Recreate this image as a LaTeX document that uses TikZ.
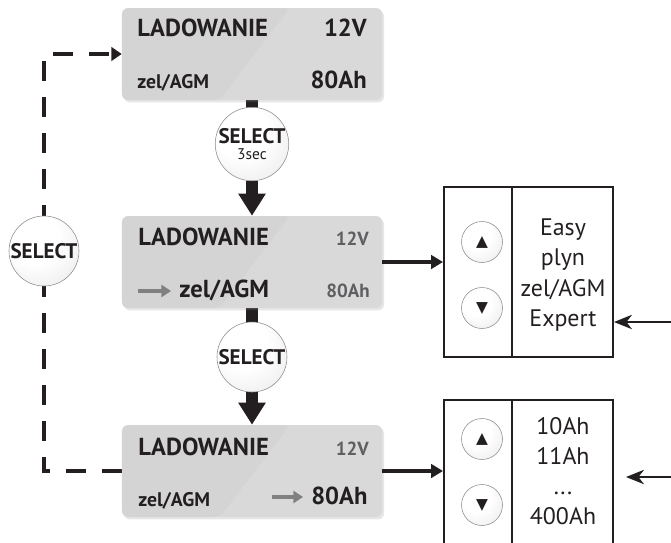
\documentclass[tikz,border=0pt]{standalone}
\usepackage{fontspec}
\setmainfont{PT Sans}
\newfontfamily\symbolfont{DejaVu Sans}
\usetikzlibrary{positioning}
\usetikzlibrary{calc}
\usetikzlibrary{shadows}
\usetikzlibrary{arrows.meta}
\definecolor{lcd grey}{RGB}{217,217,218}
\definecolor{ink}{RGB}{35,31,32}
\definecolor{dim ink}{RGB}{95,95,97}
% White face with a grey rim for the push buttons
\pgfdeclareradialshading{button glow}{\pgfpoint{-10bp}{12bp}}{%
    color(0bp)=(white); color(18bp)=(white);
    color(50bp)=(black!12); color(65bp)=(black!25)}
\tikzset{
    % Default arrow shape for the thin lines
    >={Stealth},
%
    % The grey display panel, with a slightly darker left part
    display panel/.style={
        rectangle, rounded corners=1.5mm, fill=lcd grey,
        minimum width=65mm, minimum height=23mm,
        drop shadow={opacity=.2, shadow xshift=.5mm, shadow yshift=-.6mm},
        path picture={\fill [black, opacity=.02]
            (path picture bounding box.north west) -- ++(42mm,0)
            -- ($(path picture bounding box.south west)+(24.5mm,0)$)
            -- (path picture bounding box.south west) -- cycle;}},
%
    % Round push buttons
    select button/.style={
        circle, draw=black!45, thin, shading=button glow,
        minimum size=17.5mm, inner sep=0, text=ink, align=center,
        font=\fontsize{15}{15}\selectfont\bfseries},
    arrow key/.style={
        circle, draw=black!45, thin, shading=button glow,
        minimum size=10.25mm, inner sep=0, text=ink,
        font=\symbolfont\fontsize{11}{11}\selectfont},
%
    % Heavy black bar and arrow between the panels
    state bar/.style={draw=ink, line width=3mm},
    state arrow/.style={state bar, -{Triangle[length=5.5mm,width=6.5mm]}},
    % From a panel to its list of choices
    list arrow/.style={draw=ink, line width=1mm,
        -{Triangle[length=3mm,width=3.4mm]}},
    % Thin arrows coming in from the right edge
    entry arrow/.style={draw=ink, line width=.5mm,
        -{Stealth[length=4.5mm,width=3.6mm,inset=1.4mm]}},
    % Dashed way back to the first panel
    return path/.style={draw=ink, line width=1.1mm,
        dash pattern=on 5mm off 4mm,
        -{Triangle[length=2.6mm,width=3.4mm]}},
    % Small grey marker in front of the value being set
    marker/.style={draw=black!50, line width=.8mm, shorten >=2mm,
        -{Triangle[length=2.4mm,width=3mm]}},
%
    % Lists of choices
    choice box/.style={draw=ink, line width=.5mm, minimum width=42.25mm},
    choice text/.style={text=ink, align=center,
        font=\fontsize{17}{21.5}\selectfont},
%
    % Panel texts
    big label/.style={text=ink, inner sep=0,
        font=\fontsize{17.5}{17.5}\selectfont\bfseries},
    small label/.style={text=ink, inner sep=0,
        font=\fontsize{14}{14}\selectfont\bfseries},
    dim label/.style={text=dim ink, inner sep=0,
        font=\fontsize{13.5}{13.5}\selectfont\bfseries}}
\pgfdeclarelayer{background}
\pgfsetlayers{background,main}

\begin{document}
\begin{tikzpicture}[x=0.25mm, y=-0.25mm]

\clip (0,0) rectangle (671,542);

% Three display panels

\node [display panel] (box1) at (252,54) {};
\node [display panel] (box2) at (252,262) {};
\node [display panel] (box3) at (252,471) {};

\node [big label, anchor=base west] (title1) at (137,36) {LADOWANIE};
\node [big label, anchor=base east] (volt1) at (367,36) {12V};
\node [small label, anchor=base west] (type1) at (137,88) {zel/AGM};
\node [big label, anchor=base east] (cap1) at (367,88) {80Ah};

\node [big label, anchor=base west] (title2) at (138,245) {LADOWANIE};
\node [dim label, anchor=base east] (volt2) at (369,245) {12V};
\node [big label, anchor=base west] (type2) at (179,297) {zel/AGM};
\node [dim label, anchor=base east] (cap2) at (370,297) {80Ah};
\coordinate (mark2) at (138,291);
\draw [marker] (mark2) -- (mark2 -| type2.west);

\node [big label, anchor=base west] (title3) at (138,455) {LADOWANIE};
\node [dim label, anchor=base east] (volt3) at (369,455) {12V};
\node [small label, anchor=base west] (type3) at (138,506) {zel/AGM};
\node [big label, anchor=base west] (cap3) at (311,504) {80Ah};
\coordinate (mark3) at (272,497);
\draw [marker] (mark3) -- (mark3 -| cap3.west);

% Buttons

\node [select button] (sel1) at (252,144)
    {SELECT\\[-4pt]{\fontsize{11}{11}\selectfont\mdseries 3sec}};
\node [select button] (sel2) at (252,357) {SELECT};
\node [select button] (sel3) at (44,251) {SELECT};

% Lists of choices

\node [choice box, minimum height=42.5mm] (modes) at (528.5,272) {};
\coordinate (modes split) at ($(modes.north west)+(69,0)$);
\draw [ink, line width=.3mm] (modes split) -- (modes split |- modes.south);
\node [arrow key] (up1) at (482,242) {▲};
\node [arrow key] (down1) at (482,308) {▼};
\node [choice text] (mode list) at (563,275)
    {Easy\\plyn\\zel/AGM\\Expert};

\node [choice box, minimum height=40mm] (sizes) at (528.5,480) {};
\coordinate (sizes split) at ($(sizes.north west)+(69,0)$);
\draw [ink, line width=.3mm] (sizes split) -- (sizes split |- sizes.south);
\node [arrow key] (up2) at (482,439) {▲};
\node [arrow key] (down2) at (482,505) {▼};
\node [choice text] (size list) at (563,471)
    {10Ah\\11Ah\\...\\400Ah};

\coordinate (in1) at (671,322);
\coordinate (in2) at (671,477);
\coordinate (in2 end) at (626,477);

\begin{pgfonlayer}{background}
\draw [state bar] (box1.south) -- (sel1.center);
\draw [state arrow] (sel1.south) -- (box2.north);
\draw [state bar] (box2.south) -- (sel2.center);
\draw [state arrow] (sel2.south) -- (box3.north);
\draw [return path] (box3.west) -| (sel3.center) |- (box1.west);
\end{pgfonlayer}

\draw [list arrow] (box2.east) -- (box2.east -| modes.west);
\draw [list arrow] (box3.east) -- (box3.east -| sizes.west);
\draw [entry arrow] (in1) -- (in1 -| modes.east);
\draw [entry arrow] (in2) -- (in2 end);

\end{tikzpicture}
\end{document}
